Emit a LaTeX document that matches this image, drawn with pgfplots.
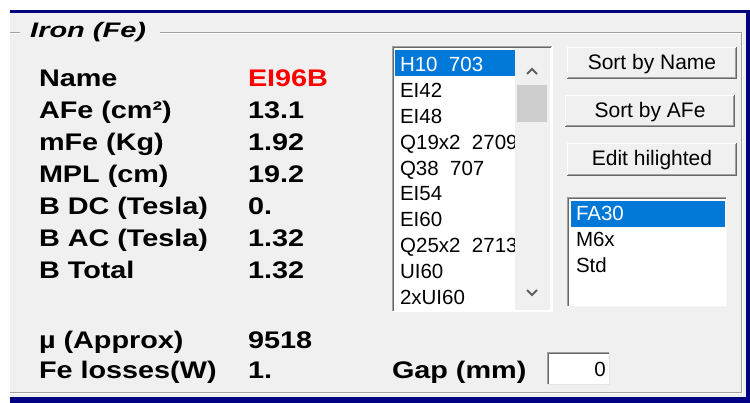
\documentclass[border=0pt]{standalone}
\usepackage{fontspec}
\setmainfont{Liberation Sans}
\newfontfamily\lblfont{Liberation Sans}[FakeStretch=1.2]
\newfontfamily\ttlfont{Liberation Sans}[FakeStretch=1.38]
\usepackage{pgfplots}
\usepackage{pgfplotstable}
\pgfplotsset{compat=1.18}
\definecolor{winbg}{HTML}{F0F0F0}
\definecolor{navy}{HTML}{000080}
\definecolor{etch}{HTML}{A0A0A0}
\definecolor{dkgray}{HTML}{696969}
\definecolor{sel}{HTML}{0078D7}
\definecolor{thumb}{HTML}{CDCDCD}
\definecolor{arrow}{HTML}{606060}

\pgfplotstableread[col sep=semicolon]{
x;y;t
39;87;Name
39;119;AFe (cm²)
39;151;mFe (Kg)
39;183;MPL (cm)
39;215;B DC (Tesla)
39;247;B AC (Tesla)
39;279;B Total
39;349;µ (Approx)
39;378;Fe losses(W)
392;378;Gap (mm)
}\labels

\pgfplotstableread[col sep=semicolon]{
x;y;t
248;119;13.1
248;151;1.92
248;183;19.2
248;215;0.
248;247;1.32
248;279;1.32
248;349;9518
248;378;1.
}\values

\pgfplotstableread[col sep=semicolon]{
x;y;t
248;87;EI96B
}\name

\pgfplotstableread[col sep=semicolon]{
x;y;t
400;98;EI42
400;124;EI48
400;176;Q38~~707
400;201;EI54
400;227;EI60
400;279;UI60
400;305;2xUI60
576;247;M6x
576;273;Std
}\items

\pgfplotstableread[col sep=semicolon]{
x;y;t
400;72;H10~~703
576;221;FA30
}\selitems

\pgfplotstableread[col sep=semicolon]{
x;y;t
652;70;Sort by Name
650;118;Sort by AFe
652;166;Edit hilighted
}\buttons

\pgfplotsset{
  txt/.style={only marks, mark=none, point meta=explicit symbolic, nodes near coords,
    every node near coord/.append style={anchor=base west, inner sep=0pt, outer sep=0pt, font=#1}},
}

\begin{document}
\begin{tikzpicture}
\begin{axis}[scale only axis, width=750pt, height=403pt,
  xmin=0, xmax=750, ymin=0, ymax=403, y dir=reverse,
  hide axis, clip=false]
% window background
\fill[white] (0,0) rectangle (750,403);
\fill[winbg] (10,13) rectangle (746,397);
\fill[navy] (10,10) rectangle (750,13);
\fill[navy] (746,10) rectangle (750,403);
\fill[navy] (10,397) rectangle (750,403);
% group box
\draw[etch, line width=1pt] (10,32.5)--(20,32.5);
\draw[etch, line width=1pt] (160,32.5)--(741.5,32.5)--(741.5,392.5)--(10,392.5);
\draw[white, line width=1pt] (10,33.5)--(20,33.5);
\draw[white, line width=1pt] (160,33.5)--(740.5,33.5);
\draw[white, line width=1pt] (742.5,32)--(742.5,393.5)--(10,393.5);
\node[anchor=base west, inner sep=0pt, font=\fontsize{21}{24}\selectfont\ttlfont\bfseries\itshape] at (30,38) {Iron (Fe)};
% core list box
\fill[white] (392,46) rectangle (552,312);
\fill[sel] (395,50) rectangle (515,76);
\addplot[txt=\fontsize{20.5}{24}\selectfont\rmfamily, every node near coord/.append style={text=black}] table[x=x,y=y,meta=t] {\items};
\addplot[txt=\fontsize{20.5}{24}\selectfont\rmfamily, every node near coord/.append style={text=white}] table[x=x,y=y,meta=t] {\selitems};
\begin{scope}
\clip (395,48) rectangle (515,310);
\node[anchor=base west, inner sep=0pt, font=\fontsize{20.5}{24}\selectfont\rmfamily] at (400,150) {Q19x2~~2709};
\node[anchor=base west, inner sep=0pt, font=\fontsize{20.5}{24}\selectfont\rmfamily] at (400,253) {Q25x2~~2713};
\end{scope}
% scrollbar
\fill[winbg] (515,48) rectangle (550,310);
\fill[thumb] (517,85) rectangle (547,122);
\draw[arrow, line width=2pt] (527,74)--(532,69)--(537,74);
\draw[arrow, line width=2pt] (527,290)--(532,295)--(537,290);
\draw[etch, line width=1pt] (392.5,312)--(392.5,46.5)--(552,46.5);
\draw[dkgray, line width=1pt] (393.5,311)--(393.5,47.5)--(551,47.5);
\draw[white, line width=1pt] (392,311.5)--(552.5,311.5)--(552.5,46);
% materials list box
\fill[white] (567,197) rectangle (727,307);
\fill[sel] (571,201) rectangle (725,227);
\draw[etch, line width=1pt] (567.5,307)--(567.5,197.5)--(727,197.5);
\draw[dkgray, line width=1pt] (568.5,306)--(568.5,198.5)--(726,198.5);
\draw[winbg!60!white, line width=1pt] (567,306.5)--(726.5,306.5)--(726.5,197);
% buttons
\fill[winbg] (567,47) rectangle (737,79);
\draw[white, line width=1pt] (567.5,78)--(567.5,47.5)--(736,47.5);
\draw[dkgray, line width=1pt] (567,78.5)--(736.5,78.5)--(736.5,47);
\draw[etch, line width=1pt] (568,77.5)--(735.5,77.5)--(735.5,48);
\fill[winbg] (565,95) rectangle (735,127);
\draw[white, line width=1pt] (565.5,126)--(565.5,95.5)--(734,95.5);
\draw[dkgray, line width=1pt] (565,126.5)--(734.5,126.5)--(734.5,95);
\draw[etch, line width=1pt] (566,125.5)--(733.5,125.5)--(733.5,96);
\fill[winbg] (567,143) rectangle (737,176);
\draw[white, line width=1pt] (567.5,175)--(567.5,143.5)--(736,143.5);
\draw[dkgray, line width=1pt] (567,175.5)--(736.5,175.5)--(736.5,143);
\draw[etch, line width=1pt] (568,174.5)--(735.5,174.5)--(735.5,144);
\addplot[txt=\fontsize{21}{24}\selectfont\rmfamily, every node near coord/.append style={anchor=base, text=black}] table[x=x,y=y,meta=t] {\buttons};
% gap text box
\fill[white] (547,352) rectangle (610,385);
\draw[etch, line width=1pt] (547.5,385)--(547.5,352.5)--(610,352.5);
\draw[dkgray, line width=1pt] (548.5,384)--(548.5,353.5)--(609,353.5);
\draw[white!90!black, line width=1pt] (547,384.5)--(609.5,384.5)--(609.5,352);
\node[anchor=base east, inner sep=0pt, font=\fontsize{20.5}{24}\selectfont\rmfamily] at (606,377) {0};
% labels and values
\addplot[txt=\fontsize{24}{28}\selectfont\lblfont\bfseries, every node near coord/.append style={text=black}] table[x=x,y=y,meta=t] {\labels};
\addplot[txt=\fontsize{24}{28}\selectfont\lblfont\bfseries, every node near coord/.append style={text=black}] table[x=x,y=y,meta=t] {\values};
\addplot[txt=\fontsize{24}{28}\selectfont\lblfont\bfseries, every node near coord/.append style={text=red}] table[x=x,y=y,meta=t] {\name};
\end{axis}
\end{tikzpicture}
\end{document}
